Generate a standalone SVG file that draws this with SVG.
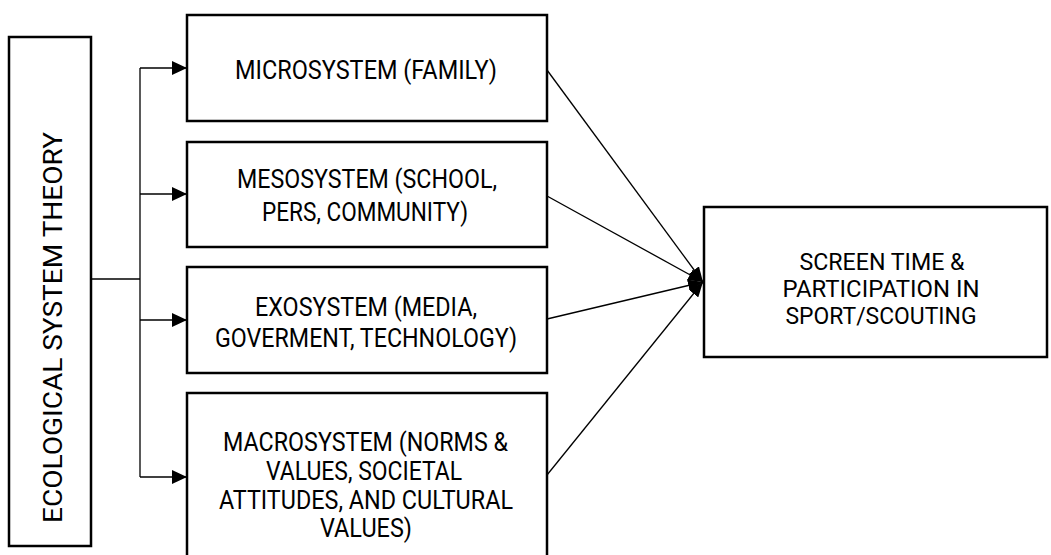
<svg xmlns="http://www.w3.org/2000/svg" width="1051" height="555" viewBox="0 0 1051 555">
<defs>
<style>
.box{fill:#fff;stroke:#000;stroke-width:2.5}
.ln{fill:none;stroke:#000;stroke-width:1.3}
.t{font-family:Roboto,"Liberation Sans",sans-serif;font-size:26px;fill:#000;text-anchor:middle}
.s{font-size:23px}
</style>
<marker id="ah" viewBox="0 0 15 14" refX="15" refY="7" markerWidth="15" markerHeight="14" markerUnits="userSpaceOnUse" orient="auto">
<path d="M0,0 L15,7 L0,14 Z" fill="#000"/>
</marker>
<marker id="ah2" viewBox="0 0 15 12" refX="15" refY="6" markerWidth="15" markerHeight="12" markerUnits="userSpaceOnUse" orient="auto">
<path d="M0,0 L15,6 L0,12 Z" fill="#000"/>
</marker>
</defs>
<g id="connectors">
<path class="ln" d="M91,279 H140"/>
<path class="ln" d="M140,68 V477"/>
<path class="ln" d="M140,68 H187" marker-end="url(#ah)"/>
<path class="ln" d="M140,194 H187" marker-end="url(#ah)"/>
<path class="ln" d="M140,320 H187" marker-end="url(#ah)"/>
<path class="ln" d="M140,477 H187" marker-end="url(#ah)"/>
<path class="ln" d="M547,70 L703,282" marker-end="url(#ah2)"/>
<path class="ln" d="M547,196 L703,282" marker-end="url(#ah2)"/>
<path class="ln" d="M547,319 L703,282" marker-end="url(#ah2)"/>
<path class="ln" d="M547,475 L703,282" marker-end="url(#ah2)"/>
</g>
<g id="ecological">
<rect class="box" x="9" y="37" width="82" height="509"/>
<text class="t" x="62" y="327.5" transform="rotate(-90 62 327.5)" textLength="391" lengthAdjust="spacingAndGlyphs">ECOLOGICAL SYSTEM THEORY</text>
</g>
<g id="microsystem">
<rect class="box" x="187" y="15" width="360" height="106"/>
<text class="t" x="366" y="79" textLength="262" lengthAdjust="spacingAndGlyphs">MICROSYSTEM (FAMILY)</text>
</g>
<g id="mesosystem">
<rect class="box" x="187" y="142" width="360" height="105"/>
<text class="t" x="367" y="188" textLength="260" lengthAdjust="spacingAndGlyphs">MESOSYSTEM (SCHOOL,</text>
<text class="t" x="365" y="221" textLength="206" lengthAdjust="spacingAndGlyphs">PERS, COMMUNITY)</text>
</g>
<g id="exosystem">
<rect class="box" x="187" y="267" width="360" height="106"/>
<text class="t" x="366" y="316" textLength="222" lengthAdjust="spacingAndGlyphs">EXOSYSTEM (MEDIA,</text>
<text class="t" x="366" y="347" textLength="302" lengthAdjust="spacingAndGlyphs">GOVERMENT, TECHNOLOGY)</text>
</g>
<g id="macrosystem">
<rect class="box" x="187" y="393" width="360" height="170"/>
<text class="t" x="365.5" y="451" textLength="285" lengthAdjust="spacingAndGlyphs">MACROSYSTEM (NORMS &amp;</text>
<text class="t" x="364" y="480" textLength="196" lengthAdjust="spacingAndGlyphs">VALUES, SOCIETAL</text>
<text class="t" x="366" y="509" textLength="294" lengthAdjust="spacingAndGlyphs">ATTITUDES, AND CULTURAL</text>
<text class="t" x="366" y="537" textLength="92" lengthAdjust="spacingAndGlyphs">VALUES)</text>
</g>
<g id="outcome">
<rect class="box" x="704" y="207" width="343" height="150"/>
<text class="t s" x="882" y="270" textLength="165" lengthAdjust="spacingAndGlyphs">SCREEN TIME &amp;</text>
<text class="t s" x="881" y="297" textLength="197" lengthAdjust="spacingAndGlyphs">PARTICIPATION IN</text>
<text class="t s" x="881" y="324" textLength="191" lengthAdjust="spacingAndGlyphs">SPORT/SCOUTING</text>
</g>
</svg>
